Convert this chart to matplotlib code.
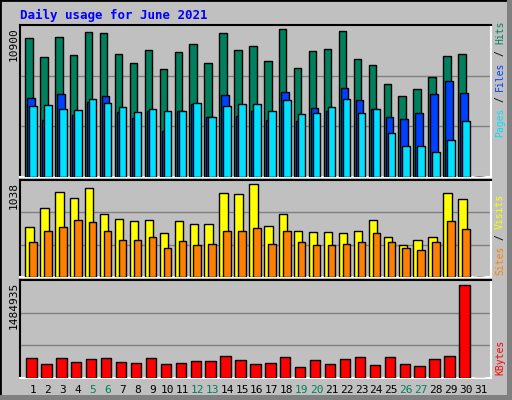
import matplotlib
matplotlib.use("Agg")
import matplotlib.pyplot as plt
from matplotlib.patches import Rectangle

days = list(range(1, 32))
hits = [10240, 8834, 10310, 8981, 10679, 10605, 9055, 8391, 9350, 7948, 9203, 9793, 8391, 10605, 9350,
        9646, 8539, 10900, 8022, 9277, 9424, 10753, 8686, 8243, 6841, 5956, 6472, 7358, 8908, 9055, 0]
files = [5808, 4184, 6103, 4553, 5513, 5956, 4775, 4332, 4849, 3373, 4849, 5365, 4406, 6029, 4480,
         4849, 4184, 6251, 4111, 5070, 4849, 6546, 5660, 4996, 4406, 4258, 4701, 6103, 7063, 6177, 0]
pages = [5218, 5291, 4996, 4922, 5734, 5439, 5144, 4775, 4996, 4849, 4849, 5439, 4406, 5218, 5365,
         5365, 4849, 5660, 4627, 4701, 5144, 5734, 4701, 4996, 3225, 2266, 2266, 1823, 2708, 4111, 0]
visits = [554, 767, 947, 880, 992, 700, 644, 622, 633, 487, 622, 588, 588, 936, 925,
          1038, 565, 700, 509, 498, 498, 487, 520, 633, 453, 363, 419, 442, 936, 869, 0]
sites = [397, 520, 554, 633, 610, 509, 419, 419, 442, 329, 408, 363, 374, 520, 509,
         543, 374, 520, 397, 363, 363, 374, 397, 487, 397, 329, 307, 397, 622, 532, 0]
kbytes = [314000, 217000, 314000, 249000, 298000, 314000, 249000, 233000, 314000, 217000, 233000,
          266000, 266000, 347000, 282000, 217000, 233000, 331000, 168000, 282000, 217000, 298000,
          331000, 200000, 331000, 217000, 184000, 298000, 347000, 1484935, 0]
weekends = [5, 6, 12, 13, 19, 20, 26, 27]

C_HITS, C_FILES, C_PAGES = "#00805c", "#0040ff", "#00e0ff"
C_VISITS, C_SITES, C_KB = "#ffff00", "#ff8000", "#ff0000"
BG = "#c0c0c0"
W, H = 512, 400

fig = plt.figure(figsize=(W / 100, H / 100), dpi=100)
fig.patch.set_facecolor(BG)
# frame and shadow
fig.patches.append(Rectangle((0, 0), 1, 1, transform=fig.transFigure, fill=False, ec="black", lw=2))
fig.patches.append(Rectangle((507 / W, 0), 5 / W, 1, transform=fig.transFigure, fc="#808080", ec="none"))
fig.patches.append(Rectangle((0, 0), 1, 5 / H, transform=fig.transFigure, fc="#808080", ec="none"))


def panel(top, bottom):
    ax = fig.add_axes([20 / W, 1 - bottom / H, 471 / W, (bottom - top) / H])
    ax.set_facecolor(BG)
    ax.set_xlim(0.13, 31.68)
    for s in ("top", "left"):
        ax.spines[s].set_color("black")
    for s in ("bottom", "right"):
        ax.spines[s].set_color("white")
    for s in ax.spines.values():
        s.set_linewidth(1.5)
    ax.set_xticks([])
    ax.set_yticks([])
    return ax


def bars(ax, vals, off, width, color):
    xs = [d + off for d in days]
    ax.bar(xs, vals, width=width, color=color, edgecolor="black", linewidth=1, zorder=3)


def grid(ax, ymax):
    for f in (1 / 3, 2 / 3):
        ax.axhline(ymax * f, color="#808080", lw=1, zorder=1)


mono = "DejaVu Sans Mono"

ax1 = panel(25, 177)
ymax1 = 11220
ax1.set_ylim(0, ymax1)
grid(ax1, ymax1)
bars(ax1, hits, -0.27, 0.5, C_HITS)
bars(ax1, files, -0.134, 0.5, C_FILES)
bars(ax1, pages, 0.0, 0.5, C_PAGES)

ax2 = panel(180, 277)
ymax2 = 1085
ax2.set_ylim(0, ymax2)
grid(ax2, ymax2)
bars(ax2, visits, -0.234, 0.56, C_VISITS)
bars(ax2, sites, 0.0, 0.5, C_SITES)

ax3 = panel(280, 378)
ymax3 = 1560000
ax3.set_ylim(0, ymax3)
grid(ax3, ymax3)
bars(ax3, kbytes, -0.1, 0.69, C_KB)

# day labels
for d in days:
    ax3.text(d, -0.07, str(d), transform=ax3.get_xaxis_transform(), ha="center", va="top",
             fontsize=8, family=mono, color=C_HITS if d in weekends else "black")

fig.text(20 / W, 1 - 15 / H, "Daily usage for June 2021", color="#0000ff", fontsize=9,
         fontweight="bold", family=mono, va="center")


def ylab(txt, y, color="black", x=14):
    fig.text(x / W, 1 - y / H, txt, rotation=90, ha="center", va="top", fontsize=8,
             family=mono, color=color)


ylab("10900", 27)
ylab("1038", 182)
ylab("1484935", 282)


def rlab(txt, ycenter, color):
    fig.text(500 / W, 1 - ycenter / H, txt, rotation=90, ha="center", va="center", fontsize=7,
             family=mono, color=color)


rlab("Hits", 32, C_HITS)
rlab("/", 53, "black")
rlab("Files", 76, C_FILES)
rlab("/", 99, "black")
rlab("Pages", 122, C_PAGES)
rlab("Visits", 211, C_VISITS)
rlab("/", 237, "black")
rlab("Sites", 260, C_SITES)
rlab("KBytes", 357, C_KB)

fig.savefig("out.png", dpi=100, facecolor=BG)
